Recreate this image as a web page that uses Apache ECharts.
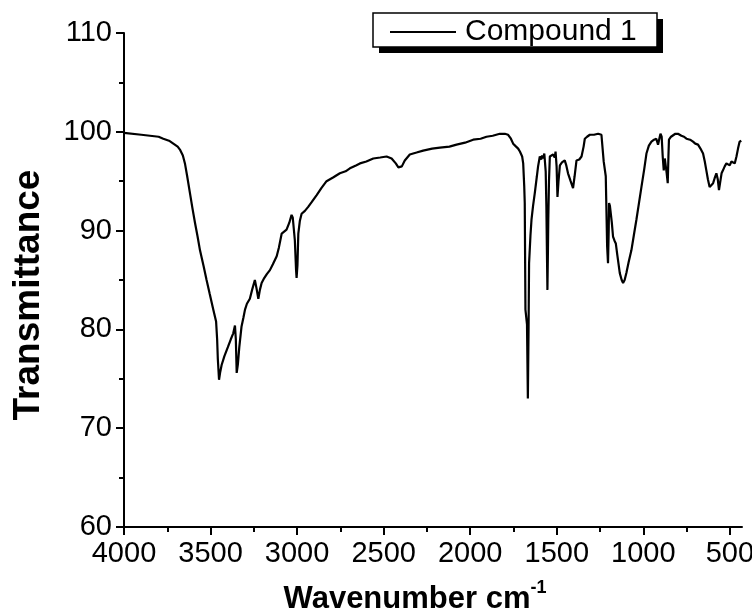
<!DOCTYPE html>
<html>
<head>
<meta charset="utf-8">
<script src="https://cdn.jsdelivr.net/npm/echarts@6/dist/echarts.min.js"></script>
<style>
  html, body { margin: 0; padding: 0; background: #fff; }
  #chart { width: 752px; height: 615px; }
</style>
</head>
<body>
<div id="chart"></div>
<script>
// IR spectrum of Compound 1: wavenumber (cm-1) and transmittance (%)
const wavenumber = [
  4000, 3900, 3800, 3773, 3740, 3715, 3690, 3677, 3660, 3648, 3635, 3619, 3605, 3590, 3575, 3561,
  3540, 3523, 3505, 3484, 3468, 3462, 3458, 3451, 3445, 3436, 3420, 3400, 3383, 3369, 3359, 3354,
  3349, 3342, 3334, 3321, 3310, 3301, 3290, 3273, 3260, 3244, 3235, 3224, 3215, 3205, 3190, 3175,
  3157, 3140, 3118, 3105, 3089, 3075, 3061, 3045, 3032, 3025, 3013, 3006, 3003, 2998, 2993, 2984,
  2974, 2955, 2936, 2915, 2887, 2860, 2830, 2790, 2753, 2720, 2695, 2660, 2637, 2600, 2560, 2520,
  2483, 2454, 2430, 2415, 2406, 2395, 2378, 2349, 2310, 2272, 2220, 2175, 2120, 2079, 2030, 1983,
  1940, 1906, 1870, 1829, 1800, 1781, 1765, 1752, 1735, 1723, 1713, 1700, 1694, 1688, 1685, 1681,
  1672, 1667, 1663, 1660, 1652, 1646, 1637, 1627, 1615, 1608, 1598, 1590, 1585, 1579, 1572, 1569,
  1564, 1560, 1557, 1554, 1551, 1549, 1545, 1540, 1530, 1521, 1512, 1507, 1501, 1496, 1490, 1482,
  1470, 1454, 1445, 1435, 1420, 1406, 1397, 1386, 1370, 1357, 1345, 1338, 1325, 1309, 1285, 1261,
  1250, 1242, 1237, 1229, 1217, 1209, 1204, 1200, 1198, 1193, 1188, 1182, 1175, 1167, 1159, 1150,
  1136, 1125, 1117, 1108, 1098, 1085, 1069, 1055, 1040, 1025, 1011, 995, 982, 968, 953, 938,
  925, 915, 905, 901, 894, 888, 882, 876, 871, 865, 859, 855, 852, 840, 829, 815,
  800, 780, 765, 751, 730, 713, 700, 684, 670, 655, 645, 636, 627, 617, 607, 597,
  588, 578, 570, 563, 555, 548, 540, 530, 520, 510, 501, 491, 481, 472, 462, 453,
  444, 434
];
const transmittance = [
  99.9, 99.7, 99.5, 99.3, 99.1, 98.8, 98.5, 98.2, 97.6, 96.8, 95.5, 93.8, 92.3, 90.8, 89.4, 88.0,
  86.4, 85.0, 83.6, 82.0, 80.8, 79.0, 77.0, 74.9, 75.6, 76.4, 77.3, 78.2, 79.0, 79.6, 80.4, 79.0,
  75.6, 76.5, 78.2, 80.3, 81.2, 82.0, 82.6, 83.1, 84.0, 85.0, 84.2, 83.1, 84.0, 84.7, 85.2, 85.6,
  86.0, 86.6, 87.4, 88.3, 89.7, 89.9, 90.1, 90.8, 91.6, 91.3, 89.0, 86.0, 85.2, 86.5, 89.7, 91.0,
  91.7, 92.0, 92.4, 92.9, 93.6, 94.3, 95.0, 95.4, 95.8, 96.0, 96.3, 96.6, 96.8, 97.0, 97.3, 97.4,
  97.5, 97.3, 96.8, 96.4, 96.2, 96.5, 97.1, 97.7, 97.9, 98.1, 98.3, 98.4, 98.5, 98.7, 98.9, 99.2,
  99.3, 99.5, 99.6, 99.8, 99.8, 99.7, 99.3, 98.8, 98.5, 98.3, 98.0, 97.5, 96.8, 94.5, 92.8, 82.0,
  80.5, 73.0, 80.0, 86.7, 89.5, 91.1, 92.5, 93.8, 95.5, 96.5, 97.5, 97.2, 97.6, 97.3, 97.8, 97.7,
  96.0, 92.4, 88.0, 84.0, 88.0, 91.1, 95.0, 97.5, 97.4, 97.7, 97.4, 98.0, 96.5, 93.4, 95.0, 96.6,
  96.9, 97.1, 96.6, 95.8, 95.0, 94.3, 95.5, 97.1, 97.2, 97.5, 98.5, 99.3, 99.5, 99.7, 99.7, 99.8,
  99.8, 99.7, 99.5, 97.0, 95.5, 88.4, 86.7, 90.0, 92.8, 92.5, 92.6, 90.8, 89.4, 89.0, 88.7, 87.5,
  85.7, 85.0, 84.7, 85.0, 85.7, 86.8, 88.0, 89.5, 91.1, 92.8, 94.4, 96.2, 97.8, 98.6, 99.0, 99.2,
  99.3, 98.7, 99.5, 99.8, 99.5, 97.5, 96.1, 97.3, 97.1, 95.8, 94.8, 97.5, 99.2, 99.5, 99.7, 99.8,
  99.8, 99.6, 99.5, 99.3, 99.2, 99.0, 98.8, 98.7, 98.3, 97.8, 97.0, 96.1, 95.2, 94.4, 94.6, 94.8,
  95.3, 95.8, 95.2, 94.1, 95.0, 95.8, 96.1, 96.5, 96.8, 96.7, 96.6, 97.0, 97.0, 96.8, 97.5, 98.3,
  99.0, 99.1
];
const xMajorTicks = [4000, 3500, 3000, 2500, 2000, 1500, 1000, 500];
const xMinorTicks = [3750, 3250, 2750, 2250, 1750, 1250, 750];
const seriesName = 'Compound 1';

const FONT = "'Liberation Sans', Arial, sans-serif";
const points = wavenumber.map((w, i) => [w, transmittance[i]]);

// legend frame with a solid drop shadow
const legendBox = { x: 373, y: 13, w: 284, h: 34, shadow: 6 };

const chart = echarts.init(document.getElementById('chart'), null, { renderer: 'canvas' });
chart.setOption({
  animation: false,
  backgroundColor: '#fff',
  grid: { left: 124, right: 10, top: 33, bottom: 88, containLabel: false, outerBoundsMode: 'none' },
  graphic: [
    {
      type: 'rect', z: 1, silent: true,
      shape: { x: legendBox.x + legendBox.shadow, y: legendBox.y + legendBox.shadow, width: legendBox.w, height: legendBox.h },
      style: { fill: '#000' }
    },
    {
      type: 'rect', z: 2, silent: true,
      shape: { x: legendBox.x, y: legendBox.y, width: legendBox.w, height: legendBox.h },
      style: { fill: '#fff', stroke: '#000', lineWidth: 1.5 }
    }
  ],
  legend: {
    data: [seriesName],
    left: 390,
    top: 16,
    orient: 'horizontal',
    icon: 'rect',
    itemWidth: 66,
    itemHeight: 2,
    itemGap: 0,
    padding: 0,
    z: 10,
    textStyle: { color: '#000', fontSize: 30, fontFamily: FONT, padding: [0, 0, 0, 4], lineHeight: 32 }
  },
  xAxis: [
    {
      type: 'value',
      min: 430,
      max: 4000,
      inverse: true,
      position: 'bottom',
      name: '{m|Wavenumber cm}{s|-1}',
      nameLocation: 'middle',
      nameGap: 52,
      nameTextStyle: {
        padding: [0, 36, 0, 0],
        rich: {
          m: { fontSize: 31, fontWeight: 'bold', fontFamily: FONT, color: '#000', lineHeight: 36, verticalAlign: 'bottom' },
          s: { fontSize: 18, fontWeight: 'bold', fontFamily: FONT, color: '#000', lineHeight: 36, verticalAlign: 'top' }
        }
      },
      splitLine: { show: false },
      axisLine: { show: true, onZero: false, lineStyle: { color: '#000', width: 2 } },
      axisTick: { show: true, length: 8, lineStyle: { color: '#000', width: 2 }, customValues: xMajorTicks },
      axisLabel: {
        color: '#000', fontSize: 29, fontFamily: FONT, margin: 12,
        customValues: xMajorTicks, hideOverlap: false, showMinLabel: true, showMaxLabel: true,
        formatter: v => String(v)
      }
    },
    {
      type: 'value',
      min: 430,
      max: 4000,
      inverse: true,
      position: 'bottom',
      offset: 0,
      splitLine: { show: false },
      axisLine: { show: false },
      axisTick: { show: true, length: 5, lineStyle: { color: '#000', width: 2 }, customValues: xMinorTicks },
      axisLabel: { show: false }
    }
  ],
  yAxis: {
    type: 'value',
    min: 60,
    max: 110,
    interval: 10,
    name: 'Transmittance',
    nameLocation: 'middle',
    nameRotate: 90,
    nameGap: 77,
    nameTextStyle: { fontSize: 37, fontWeight: 'bold', fontFamily: FONT, color: '#000', padding: [0, 30, 0, 0] },
    splitLine: { show: false },
    axisLine: { show: true, onZero: false, lineStyle: { color: '#000', width: 2 } },
    axisTick: { show: true, length: 8, lineStyle: { color: '#000', width: 2 } },
    minorTick: { show: true, splitNumber: 2, length: 5, lineStyle: { color: '#000', width: 2 } },
    axisLabel: { color: '#000', fontSize: 29, fontFamily: FONT, margin: 12, formatter: v => String(v) }
  },
  series: [{
    name: seriesName,
    type: 'line',
    xAxisIndex: 0,
    data: points,
    symbol: 'none',
    smooth: false,
    lineStyle: { color: '#000', width: 2.2 },
    itemStyle: { color: '#000' }
  }]
});
</script>
</body>
</html>
